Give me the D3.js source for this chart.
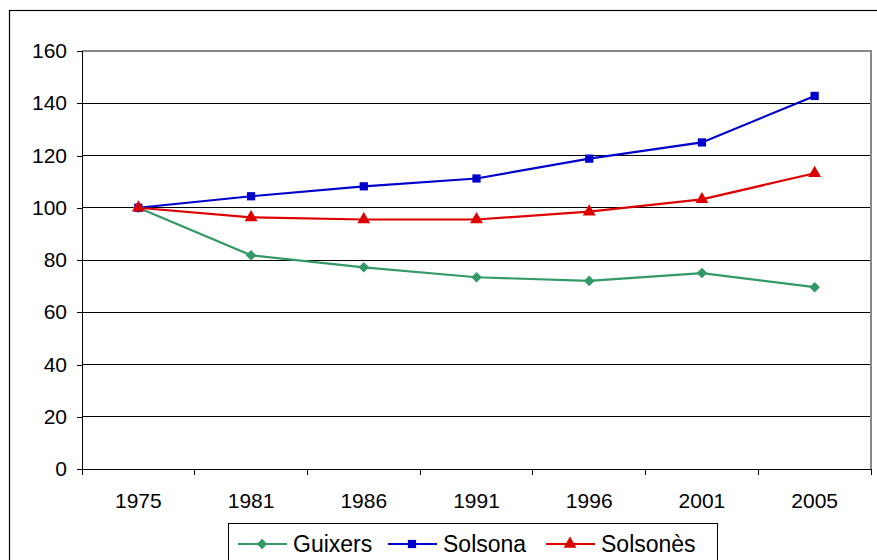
<!DOCTYPE html>
<meta charset="utf-8">
<style>
    body {
        margin: 0;
        font-family: Arial, "Liberation Sans", sans-serif;
        background: #fff;
    }
    .grid line {
        stroke: #000;
        stroke-width: 1;
        shape-rendering: crispEdges;
    }
    .axis path,
    .axis line {
        fill: none;
        stroke: #000;
        stroke-width: 1;
        shape-rendering: crispEdges;
    }
    .axis text {
        font-size: 21px;
        fill: #000;
    }
</style>
<body>
<script src="https://d3js.org/d3.v7.min.js"></script>
<script>

// data (index, 1975 = 100)
var years = ["1975", "1981", "1986", "1991", "1996", "2001", "2005"];
var guixers = [100, 81.8, 77.2, 73.4, 72.0, 75.0, 69.6];
var solsona = [100, 104.4, 108.2, 111.2, 118.8, 125.0, 142.8];
var solsones = [100, 96.3, 95.5, 95.5, 98.5, 103.2, 113.2];
var yTicks = [0, 20, 40, 60, 80, 100, 120, 140, 160];

// diamond = square turned 45 degrees
var diamond = {
    draw: function (ctx, size) {
        var r = Math.sqrt(size / 2);
        ctx.moveTo(0, -r); ctx.lineTo(r, 0); ctx.lineTo(0, r); ctx.lineTo(-r, 0); ctx.closePath();
    }
};

var series = [
    { name: "Guixers", values: guixers, color: "#339966", symbol: diamond, size: 56 },
    { name: "Solsona", values: solsona, color: "#0000cc", symbol: d3.symbolSquare, size: 68 },
    { name: "Solsonès", values: solsones, color: "#dd0000", symbol: d3.symbolTriangle, size: 72 }
];

var W = 877, H = 560;
var margin = { top: 51, left: 82 },
    width = 871 - margin.left,
    height = 469 - margin.top;

var svg = d3.select("body").append("svg")
    .attr("width", W)
    .attr("height", H);

// outer chart frame (runs off the right and bottom)
svg.append("rect")
    .attr("x", 9.5).attr("y", 10.5)
    .attr("width", W + 20).attr("height", H + 20)
    .attr("fill", "none")
    .attr("stroke", "#000")
    .attr("stroke-width", 1.2);

var g = svg.append("g")
    .attr("transform", "translate(" + margin.left + "," + margin.top + ")");

var x = d3.scaleBand().domain(years).range([0, width]);
var y = d3.scaleLinear().domain([0, 160]).range([height, 0]);

// gridlines
g.append("g").attr("class", "grid")
    .selectAll("line")
    .data(yTicks.filter(function (d) { return d > 0 && d < 160; }))
    .enter().append("line")
    .attr("x1", 0).attr("x2", width)
    .attr("y1", function (d) { return y(d); })
    .attr("y2", function (d) { return y(d); });

// plot area border top / right (grey)
g.append("path")
    .attr("d", "M0," + y(160) + "H" + width + "V" + height)
    .attr("fill", "none")
    .attr("stroke", "#888")
    .attr("stroke-width", 2);

// y axis
g.append("g").attr("class", "axis")
    .call(d3.axisLeft(y).tickValues(yTicks).tickSize(5).tickPadding(10));

// x axis with ticks between categories
var xAxis = g.append("g").attr("class", "axis")
    .attr("transform", "translate(0," + height + ")")
    .call(d3.axisBottom(x).tickSize(0).tickPadding(24));
xAxis.select(".domain").remove();
xAxis.append("line")
    .attr("x1", 0).attr("x2", width)
    .attr("y1", 0).attr("y2", 0);
xAxis.selectAll(".sep")
    .data(d3.range(years.length + 1))
    .enter().append("line")
    .attr("class", "sep")
    .attr("x1", function (i) { return i * x.step(); })
    .attr("x2", function (i) { return i * x.step(); })
    .attr("y1", 0).attr("y2", 6);

// lines and markers
var line = d3.line()
    .x(function (d, i) { return x(years[i]) + x.bandwidth() / 2; })
    .y(function (d) { return y(d); });

series.forEach(function (s) {
    g.append("path")
        .datum(s.values)
        .attr("d", line)
        .attr("fill", "none")
        .attr("stroke", s.color)
        .attr("stroke-width", 2.2);
});

series.forEach(function (s) {
    g.selectAll(null)
        .data(s.values)
        .enter().append("path")
        .attr("d", d3.symbol().type(s.symbol).size(s.size))
        .attr("transform", function (d, i) {
            return "translate(" + (x(years[i]) + x.bandwidth() / 2) + "," + y(d) + ")";
        })
        .attr("fill", s.color);
});

// legend
var legend = svg.append("g");
legend.append("rect")
    .attr("x", 228.5).attr("y", 523.5)
    .attr("width", 489).attr("height", 60)
    .attr("fill", "#fff")
    .attr("stroke", "#000")
    .attr("stroke-width", 1);

var legX = [238, 388, 546];
series.forEach(function (s, i) {
    var lg = legend.append("g").attr("transform", "translate(" + legX[i] + ",544)");
    lg.append("line")
        .attr("x1", 0).attr("x2", 49)
        .attr("stroke", s.color).attr("stroke-width", 2);
    lg.append("path")
        .attr("d", d3.symbol().type(s.symbol).size(s.size))
        .attr("transform", "translate(24,0)")
        .attr("fill", s.color);
    lg.append("text")
        .attr("x", 55).attr("y", 8)
        .attr("font-size", "23px")
        .text(s.name);
});

</script>
</body>
